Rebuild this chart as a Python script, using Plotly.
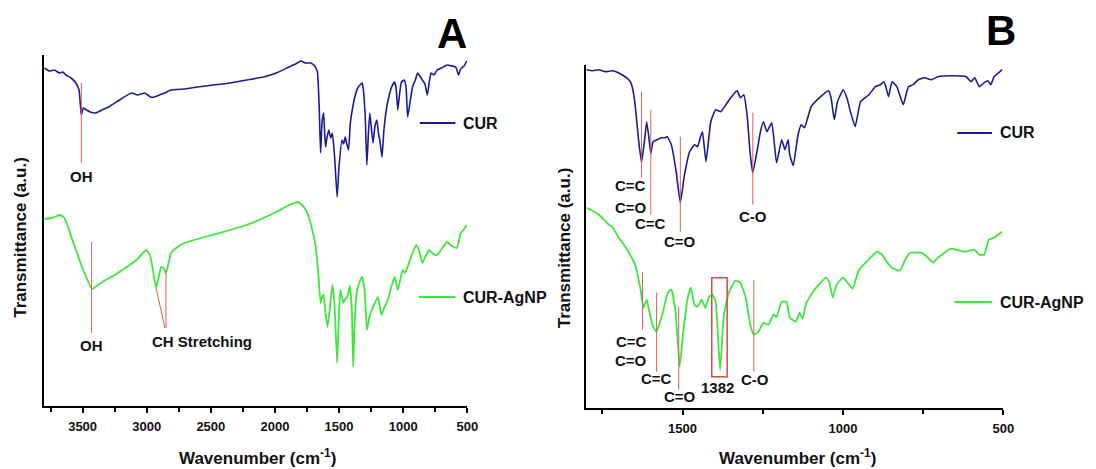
import plotly.graph_objects as go

# ---------------- data (transmittance in arbitrary units) ----------------
A_cur_wn = [3797, 3760, 3720, 3682, 3655, 3630, 3590, 3553, 3528, 3510, 3495, 3482, 3440, 3400, 3350, 3297,
            3200, 3120, 3070, 3015, 2970, 2938, 2900, 2860, 2812, 2700, 2605, 2480, 2350, 2220, 2090, 1990,
            1890, 1840, 1797, 1760, 1720, 1690, 1669, 1655, 1644, 1632, 1620, 1612, 1605, 1595, 1580, 1565,
            1552, 1535, 1515, 1500, 1477, 1465, 1452, 1440, 1426, 1412, 1397, 1375, 1350, 1320, 1310, 1296,
            1283, 1270, 1260, 1248, 1235, 1220, 1205, 1192, 1182, 1165, 1150, 1128, 1110, 1090, 1067, 1055,
            1042, 1028, 1013, 990, 977, 965, 945, 927, 905, 888, 870, 850, 830, 812, 795, 782, 760, 735, 700,
            658, 620, 590, 567, 555, 543, 525, 505]
A_cur_t = [338, 335, 336, 333, 334, 331, 328, 323, 316, 291, 298, 297, 294, 293, 296, 299,
           307, 313, 311, 313, 309, 309, 311, 313, 316, 317, 319, 321, 323, 326, 329, 333,
           339, 342, 345, 343, 343, 340, 334, 300, 253, 285, 293, 272, 259, 268, 276, 268,
           273, 250, 209, 240, 266, 262, 269, 262, 256, 283, 296, 310, 319, 323, 316, 290,
           241, 275, 293, 278, 263, 280, 286, 272, 266, 249, 276, 299, 310, 319, 324, 318,
           296, 312, 324, 326, 318, 289, 305, 319, 326, 333, 330, 326, 322, 311, 325, 333, 331, 336, 338,
           341, 340, 339, 331, 336, 338, 340, 345]

A_agnp_wn = [3797, 3750, 3700, 3682, 3660, 3643, 3610, 3580, 3540, 3505, 3465, 3427, 3380, 3322, 3250, 3168,
             3080, 3004, 2975, 2950, 2927, 2905, 2888, 2870, 2850, 2830, 2810, 2760, 2705, 2550, 2350, 2200,
             2090, 1990, 1890, 1850, 1820, 1790, 1759, 1720, 1682, 1660, 1644, 1630, 1620, 1605, 1590, 1570,
             1552, 1535, 1515, 1500, 1490, 1478, 1466, 1452, 1436, 1415, 1400, 1390, 1378, 1360, 1340, 1320,
             1300, 1283, 1265, 1245, 1220, 1197, 1182, 1170, 1145, 1120, 1095, 1067, 1055, 1042, 1020, 1003,
             985, 965, 930, 897, 875, 850, 825, 797, 765, 735, 700, 658, 620, 582, 565, 551, 530, 505]
A_agnp_t = [187, 188, 190, 191, 190, 188, 178, 166, 152, 139, 127, 117, 121, 126, 131, 138,
            146, 156, 151, 135, 118, 130, 139, 138, 133, 143, 153, 159, 163, 169, 176, 182,
            188, 194, 201, 203, 204, 201, 196, 182, 159, 130, 103, 110, 111, 92, 79, 100,
            121, 100, 43, 95, 116, 110, 103, 107, 109, 120, 95, 39, 85, 116, 124, 129,
            115, 76, 88, 96, 103, 109, 100, 91, 99, 106, 118, 129, 124, 116, 128, 136,
            133, 139, 152, 161, 155, 143, 150, 156, 152, 151, 157, 164, 160, 158, 165, 173, 176, 181]

B_cur_wn = [1800, 1780, 1761, 1740, 1720, 1700, 1689, 1675, 1663, 1655, 1648, 1638, 1628, 1619, 1612, 1605,
            1599, 1592, 1580, 1566, 1555, 1548, 1535, 1520, 1507, 1494, 1478, 1463, 1453, 1445, 1438, 1427,
            1412, 1397, 1381, 1365, 1350, 1330, 1320, 1309, 1299, 1289, 1281, 1268, 1258, 1248, 1237, 1222,
            1207, 1191, 1181, 1171, 1166, 1155, 1140, 1130, 1120, 1099, 1073, 1045, 1037, 1027, 1017, 999,
            986, 976, 962, 945, 919, 899, 883, 873, 868, 858, 847, 832, 812, 796, 781, 765, 745, 724, 704,
            663, 616, 601, 589, 575, 560, 548, 539, 529, 514, 504]
B_cur_t = [338, 337, 338, 336, 337, 335, 333, 330, 326, 318, 303, 270, 245, 266, 286, 270,
           254, 266, 268, 270, 270, 271, 263, 236, 205, 233, 256, 263, 261, 270, 276, 246,
           286, 298, 296, 303, 310, 317, 310, 313, 293, 253, 235, 256, 275, 286, 276, 285,
           245, 268, 258, 268, 253, 242, 273, 283, 280, 301, 310, 317, 310, 288, 306, 318,
           308, 295, 281, 306, 313, 321, 323, 326, 323, 311, 326, 321, 303, 321, 323, 328, 330, 328, 331,
           332, 331, 326, 330, 321, 325, 327, 323, 331, 335, 338]

B_agnp_wn = [1800, 1780, 1761, 1745, 1730, 1720, 1699, 1685, 1669, 1648, 1632, 1622, 1612, 1605, 1592, 1581,
             1570, 1561, 1545, 1535, 1522, 1509, 1499, 1484, 1474, 1463, 1453, 1441, 1429, 1417, 1407, 1397,
             1383, 1371, 1355, 1335, 1320, 1304, 1289, 1278, 1263, 1248, 1232, 1217, 1207, 1191, 1176, 1166,
             1147, 1135, 1126, 1114, 1089, 1053, 1043, 1032, 1020, 1000, 986, 970, 950, 914, 894, 878, 868,
             847, 822, 806, 791, 755, 735, 719, 704, 663, 622, 591, 575, 560, 545, 529, 504]
B_agnp_t = [200, 197, 193, 188, 183, 181, 170, 164, 156, 143, 120, 100, 108, 98, 81, 76,
            86, 96, 116, 118, 96, 41, 73, 110, 120, 103, 101, 108, 100, 111, 113, 106,
            38, 93, 116, 127, 125, 111, 83, 73, 76, 85, 83, 93, 91, 106, 106, 90,
            86, 95, 89, 105, 118, 130, 126, 110, 123, 130, 125, 119, 138, 150, 156, 153, 148,
            140, 137, 148, 155, 155, 150, 145, 150, 159, 156, 158, 153, 153, 168, 170, 176]

A_ticks = [3500, 3000, 2500, 2000, 1500, 1000, 500]
B_ticks = [1500, 1000, 500]
series_names = ["CUR", "CUR-AgNP"]

A_peak_lines = [(3510, 323, 243), (3430, 164, 73), (2850, 136, 78)]
A_peak_labels = [(3510, 229, "OH"), (3430, 61, "OH"), (2566, 65, "CH Stretching")]
B_peak_lines = [(1628, 316, 230), (1599, 298, 193), (1507, 271, 176), (1281, 295, 203),
                (1625, 136, 78), (1581, 115, 36), (1512, 101, 18), (1278, 128, 36)]
B_peak_labels = [(1662, 222, "C=C"), (1662, 200, "C=O"), (1599, 184, "C=C"), (1507, 166, "C=O"),
                 (1281, 191, "C-O"), (1660, 66, "C=C"), (1660, 47, "C=O"), (1581, 29, "C=C"),
                 (1507, 11, "C=O"), (1392, 20, "1382"), (1275, 28, "C-O")]

# ---------------- styling ----------------
W, H = 1096, 469
FONT = "Liberation Sans, Arial, sans-serif"
BLUE = "#1c1c90"
GREEN = "#3ee63e"
RED = "#d9605a"


def pxx(x):
    return x / W


def pxy(y):
    return 1 - y / H


fig = go.Figure()
line_kw = dict(shape="spline", smoothing=0.4)
fig.add_trace(go.Scatter(x=A_cur_wn, y=A_cur_t, mode="lines", line=dict(color=BLUE, width=1.6, **line_kw),
                         xaxis="x", yaxis="y", name=series_names[0], showlegend=False))
fig.add_trace(go.Scatter(x=A_agnp_wn, y=A_agnp_t, mode="lines", line=dict(color=GREEN, width=1.8, **line_kw),
                         xaxis="x", yaxis="y", name=series_names[1], showlegend=False))
fig.add_trace(go.Scatter(x=B_cur_wn, y=B_cur_t, mode="lines", line=dict(color=BLUE, width=1.6, **line_kw),
                         xaxis="x2", yaxis="y2", name=series_names[0], showlegend=False))
fig.add_trace(go.Scatter(x=B_agnp_wn, y=B_agnp_t, mode="lines", line=dict(color=GREEN, width=1.8, **line_kw),
                         xaxis="x2", yaxis="y2", name=series_names[1], showlegend=False))

shapes = []
annotations = []

for wn, y0, y1 in A_peak_lines:
    shapes.append(dict(type="line", xref="x", yref="y", x0=wn, x1=wn, y0=y0, y1=y1,
                       line=dict(color=RED, width=1)))
shapes.append(dict(type="line", xref="x", yref="y", x0=2927, x1=2858, y0=118, y1=78,
                   line=dict(color=RED, width=1)))
for wn, y, txt in A_peak_labels:
    annotations.append(dict(x=wn, y=y, xref="x", yref="y", text=txt, showarrow=False,
                            font=dict(family=FONT, size=15, color="#111", weight="bold")))

for wn, y0, y1 in B_peak_lines:
    shapes.append(dict(type="line", xref="x2", yref="y2", x0=wn, x1=wn, y0=y0, y1=y1,
                       line=dict(color=RED, width=1)))
shapes.append(dict(type="rect", xref="x2", yref="y2", x0=1409, x1=1361, y0=31, y1=130,
                   line=dict(color="#d04a4a", width=1.5)))
for wn, y, txt in B_peak_labels:
    annotations.append(dict(x=wn, y=y, xref="x2", yref="y2", text=txt, showarrow=False,
                            font=dict(family=FONT, size=15, color="#111", weight="bold")))

legend_items = [(424, 460, 123, BLUE, series_names[0]), (423, 460, 297, GREEN, series_names[1]),
                (967, 1002, 133, BLUE, series_names[0]), (964, 1002, 302, GREEN, series_names[1])]
for x0, x1, y, col, txt in legend_items:
    shapes.append(dict(type="line", xref="paper", yref="paper", x0=pxx(x0), x1=pxx(x1),
                       y0=pxy(y), y1=pxy(y), line=dict(color=col, width=1.8)))
    annotations.append(dict(x=pxx(x1 + 6), y=pxy(y), xref="paper", yref="paper", text=txt,
                            showarrow=False, xanchor="left", yanchor="middle",
                            font=dict(family=FONT, size=16, color="#111", weight="bold")))

for x, y, txt in [(457, 33, "A"), (1011, 30, "B")]:
    annotations.append(dict(x=pxx(x), y=pxy(y), xref="paper", yref="paper", text=txt, showarrow=False,
                            xanchor="center", yanchor="middle",
                            font=dict(family=FONT, size=42, color="#000", weight="bold")))

for x, y in [(260, 457), (806, 457)]:
    annotations.append(dict(x=pxx(x), y=pxy(y), xref="paper", yref="paper",
                            text="Wavenumber (cm<sup>-1</sup>)", showarrow=False,
                            xanchor="center", yanchor="middle",
                            font=dict(family=FONT, size=17, color="#111", weight="bold")))
for x, y in [(21, 237), (570, 248)]:
    annotations.append(dict(x=pxx(x), y=pxy(y), xref="paper", yref="paper",
                            text="Transmittance (a.u.)", showarrow=False, textangle=-90,
                            xanchor="center", yanchor="middle",
                            font=dict(family=FONT, size=17, color="#111", weight="bold")))

xaxis_common = dict(showline=True, linecolor="black", linewidth=1.6, ticks="outside", ticklen=5,
                    tickwidth=1.5, tickcolor="black", showgrid=False, zeroline=False,
                    tickfont=dict(family=FONT, size=13, color="#111", weight="bold"),
                    ticklabelstandoff=3,
                    minor=dict(dtick=250, tick0=500, ticks="outside", ticklen=4, tickwidth=1.5,
                               tickcolor="black", showgrid=False))
yaxis_common = dict(showline=True, linecolor="black", linewidth=1.6, ticks="", showticklabels=False,
                    showgrid=False, zeroline=False)

fig.update_layout(
    width=W, height=H, margin=dict(l=0, r=0, t=0, b=0),
    paper_bgcolor="white", plot_bgcolor="white", showlegend=False,
    xaxis=dict(domain=[pxx(44.6), pxx(472)], range=[3800, 500], anchor="y",
               tickvals=A_ticks, ticktext=[str(t) for t in A_ticks], **xaxis_common),
    yaxis=dict(domain=[pxy(406), pxy(55)], range=[0, 351], anchor="x", **yaxis_common),
    xaxis2=dict(domain=[pxx(592.3), pxx(1013.5)], range=[1800, 500], anchor="y2",
                tickvals=B_ticks, ticktext=[str(t) for t in B_ticks], **xaxis_common),
    yaxis2=dict(domain=[pxy(407.7), pxy(65)], range=[0, 342.7], anchor="x2", **yaxis_common),
    shapes=shapes, annotations=annotations,
)

# make sure the page itself adds no margin or scrollbars
post = """
document.documentElement.style.margin = '0';
document.documentElement.style.overflow = 'hidden';
document.body.style.margin = '0';
document.body.style.overflow = 'hidden';
"""

fig.write_html("out.html", post_script=post)
